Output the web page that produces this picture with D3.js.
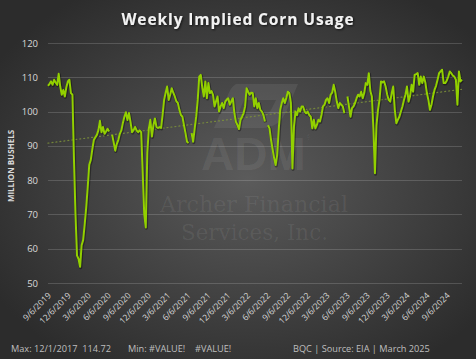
<!DOCTYPE html>
<html>
<head>
<meta charset="utf-8">
<script src="https://cdn.jsdelivr.net/npm/d3@7"></script>
<style>
  html, body { margin: 0; padding: 0; background: #333; }
  svg { display: block; }
</style>
</head>
<body>
<div id="chart"></div>
<script>
// Dimensions du graphique
const width = 476;
const height = 359;
const margin = { top: 43, right: 14, bottom: 76, left: 48 };

// Données : valeurs hebdomadaires (millions de boisseaux), à partir du 6/9/2019
const startDate = "9/6/2019";
const usage = [
  107.5, 108.1, 108.8, 107.8, 109.3, 108.5, 107.8, 111.0, 107.3, 104.9,
  106.3, 104.4, 107.1, 108.8, 109.3, 105.4, 104.9, 86.0, 70.0, 58.0,
  57.0, 54.7, 61.0, 62.5, 67.0, 72.0, 78.0, 84.5, 85.9, 89.0,
  91.7, 92.5, 93.2, 94.6, 97.3, 94.0, 95.5, 93.5, 94.2, 95.0,
  94.2, null, 93.2, 91.0, 88.6, 90.5, 91.7, 93.5, 94.5, 96.7,
  98.5, 99.8, 97.5, 99.6, 97.0, 94.0, 94.6, 95.5, 94.5, 94.0,
  94.5, 94.0, 82.0, 70.0, 66.2, 88.0, 95.0, 97.6, 92.7, 96.0,
  98.0, 95.5, 95.2, 95.5, 95.2, 99.0, 103.4, 105.5, 107.3, 103.4,
  105.0, 106.8, 105.5, 104.4, 103.0, 102.5, 100.5, 99.0, 98.5, 96.0,
  93.7, 91.2, 90.8, null, 93.7, 91.2, 95.0, 98.5, 103.4, 110.2,
  110.7, 107.0, 104.4, 108.8, 103.9, 108.3, 105.4, 106.0, 104.9, 101.5,
  103.0, 104.4, 100.0, 101.5, 102.5, 101.0, 102.9, 103.5, 103.9, 102.0,
  103.0, 103.9, 99.5, 97.0, 96.1, 94.9, 97.6, 98.5, 99.5, 101.5,
  106.8, 105.8, 104.9, 105.5, 105.4, 101.5, 103.9, 101.0, 102.5, 100.5,
  100.0, 99.0, 97.1, null, 96.0, 95.1, 91.7, 89.0, 86.5, 84.4,
  87.3, 94.6, 100.5, 102.5, 103.9, 102.5, 104.0, 105.8, 105.4, 102.5,
  83.4, 95.6, 100.0, 99.0, 101.0, 100.0, 101.5, 101.5, 100.0, 99.5,
  100.0, 99.0, 98.5, 95.1, 97.6, 95.1, 96.1, 97.6, 97.1, 99.0,
  101.5, 102.0, 103.4, 103.9, 102.5, 104.9, 105.5, 107.8, 105.8, 103.0,
  101.0, 102.5, 102.0, 101.5, 99.5, null, 104.4, 101.5, 98.5, 101.0,
  101.5, 102.5, 103.9, 104.9, 104.4, 105.8, 103.9, 105.4, 108.3, 107.8,
  111.2, 106.0, 104.4, 95.0, 82.0, 96.0, 100.5, 103.4, 108.8, 108.5,
  108.8, 107.3, 105.0, 103.4, 102.9, 105.4, 107.3, 100.5, 96.6, 97.6,
  98.5, 100.0, 101.5, 103.4, 105.0, 107.3, 102.9, 104.5, 107.8, 105.8,
  110.7, 110.9, 111.2, 107.8, 110.2, 108.3, 110.2, 108.5, 105.4, 103.4,
  100.5, 102.0, 104.4, 106.3, 107.5, 109.3, 111.2, 111.7, 112.2, 108.3,
  108.3, 109.0, 110.2, 111.7, 111.2, 110.5, 110.2, 109.3, 102.0, 111.7,
  108.8, 109.3
];

// Tendance linéaire (valeurs aux extrémités)
const trendEnds = [90.8, 106.5];

// Axes
const yTicks = [50, 60, 70, 80, 90, 100, 110, 120];
const xTickLabels = [
  "9/6/2019", "12/6/2019", "3/6/2020", "6/6/2020", "9/6/2020", "12/6/2020",
  "3/6/2021", "6/6/2021", "9/6/2021", "12/6/2021", "3/6/2022", "6/6/2022",
  "9/6/2022", "12/6/2022", "3/6/2023", "6/6/2023", "9/6/2023", "12/6/2023",
  "3/6/2024", "6/6/2024", "9/6/2024"
];

// Textes
const title = "Weekly Implied Corn Usage";
const yTitle = "MILLION BUSHELS";
const footerMax = "Max: 12/1/2017  114.72";
const footerMin = "Min: #VALUE!";
const footerMin2 = "#VALUE!";
const source = "BQC | Source: EIA | March 2025";

const parse = d3.timeParse("%m/%d/%Y");
const start = parse(startDate);
const data = usage.map((v, i) => ({ date: d3.timeDay.offset(start, 7 * i), value: v }));

const svg = d3.select("#chart").append("svg")
  .attr("width", width)
  .attr("height", height);

// Fond dégradé radial
const defs = svg.append("defs");
const bg = defs.append("radialGradient")
  .attr("id", "bg")
  .attr("cx", "52%").attr("cy", "50%").attr("r", "62%");
bg.append("stop").attr("offset", "0%").attr("stop-color", "#5b5b5b");
bg.append("stop").attr("offset", "100%").attr("stop-color", "#2c2c2c");

svg.append("rect")
  .attr("width", width)
  .attr("height", height)
  .attr("fill", "url(#bg)");

const shadow = defs.append("filter").attr("id", "shadow")
  .attr("x", "-10%").attr("y", "-30%").attr("width", "120%").attr("height", "160%");
shadow.append("feDropShadow")
  .attr("dx", 1).attr("dy", 1).attr("stdDeviation", 0.8)
  .attr("flood-color", "#000").attr("flood-opacity", 0.7);

// Échelles
const x = d3.scaleTime()
  .domain(d3.extent(data, d => d.date))
  .range([margin.left, width - margin.right]);

const y = d3.scaleLinear()
  .domain([50, 120])
  .range([height - margin.bottom, margin.top]);

// Filigrane ADM
const wm = svg.append("g").attr("fill", "#ffffff").attr("fill-opacity", 0.07);
wm.append("path")
  .attr("d", "M236,84 L298,84 L286,112 C281,123 272,128 262,128 L214,128 L226,100 C229,92 231,87 236,84 Z M244,100 L238,114 L264,114 C268,114 270,112 272,108 L276,100 Z");
wm.append("text")
  .attr("x", 201).attr("y", 170)
  .attr("font-family", "Liberation Sans, Arial, sans-serif")
  .attr("font-weight", "bold")
  .attr("font-size", 46)
  .text("ADM");
wm.append("text")
  .attr("x", 306).attr("y", 140)
  .attr("font-family", "Liberation Sans, Arial, sans-serif")
  .attr("font-size", 7)
  .text("®");
wm.append("text")
  .attr("x", 160).attr("y", 212)
  .attr("font-family", "DejaVu Serif, serif")
  .attr("font-size", 23)
  .attr("textLength", 188)
  .attr("lengthAdjust", "spacingAndGlyphs")
  .text("Archer Financial");
wm.append("text")
  .attr("x", 181).attr("y", 240)
  .attr("font-family", "DejaVu Serif, serif")
  .attr("font-size", 23)
  .attr("textLength", 147)
  .attr("lengthAdjust", "spacingAndGlyphs")
  .text("Services, Inc.");

// Quadrillage horizontal
svg.append("g")
  .selectAll("line")
  .data(yTicks)
  .enter().append("line")
  .attr("x1", margin.left)
  .attr("x2", width - margin.right)
  .attr("y1", d => Math.round(y(d)) + 0.5)
  .attr("y2", d => Math.round(y(d)) + 0.5)
  .attr("stroke", "#ffffff")
  .attr("stroke-opacity", 0.16)
  .attr("stroke-width", 1);

// Axe Y
const yAxis = svg.append("g")
  .attr("transform", `translate(${margin.left - 10},0)`)
  .call(d3.axisLeft(y).tickValues(yTicks).tickSize(0).tickPadding(0));
yAxis.select(".domain").remove();
yAxis.selectAll("text")
  .attr("fill", "#d9d9d9")
  .attr("font-family", "Open Sans, sans-serif")
  .attr("font-size", 9.5);

// Axe X
const xAxis = svg.append("g")
  .attr("transform", `translate(0,${height - margin.bottom})`)
  .call(d3.axisBottom(x).tickValues(xTickLabels.map(parse)).tickSize(0)
    .tickFormat((d, i) => xTickLabels[i]));
xAxis.select(".domain").remove();
xAxis.selectAll("text")
  .attr("fill", "#d9d9d9")
  .attr("font-family", "Open Sans, sans-serif")
  .attr("font-size", 8.5)
  .attr("text-anchor", "end")
  .attr("dx", 0)
  .attr("dy", 0)
  .attr("transform", "translate(1,11) rotate(-45)");

// Titre de l'axe Y
svg.append("text")
  .attr("transform", `translate(14,${(y(50) + y(120)) / 2 + 3}) rotate(-90)`)
  .attr("text-anchor", "middle")
  .attr("fill", "#d9d9d9")
  .attr("font-family", "Open Sans, sans-serif")
  .attr("font-weight", "bold")
  .attr("font-size", 8)
  .text(yTitle);

// Ligne de tendance
svg.append("line")
  .attr("x1", x.range()[0])
  .attr("x2", x.range()[1])
  .attr("y1", y(trendEnds[0]))
  .attr("y2", y(trendEnds[1]))
  .attr("stroke", "#7d923a")
  .attr("stroke-opacity", 0.85)
  .attr("stroke-width", 1.2)
  .attr("stroke-dasharray", "1,3")
  .attr("stroke-linecap", "round");

// Courbe principale
const line = d3.line()
  .defined(d => d.value !== null)
  .x(d => x(d.date))
  .y(d => y(d.value));

svg.append("path")
  .datum(data)
  .attr("fill", "none")
  .attr("stroke", "#000")
  .attr("stroke-opacity", 0.35)
  .attr("stroke-width", 3.2)
  .attr("transform", "translate(0.6,0.8)")
  .attr("stroke-linejoin", "round")
  .attr("d", line);

svg.append("path")
  .datum(data)
  .attr("fill", "none")
  .attr("stroke", "#92d000")
  .attr("stroke-width", 2)
  .attr("stroke-linejoin", "round")
  .attr("d", line);

// Titre
svg.append("text")
  .attr("x", 238)
  .attr("y", 25)
  .attr("text-anchor", "middle")
  .attr("fill", "#f2f2f2")
  .attr("font-family", "Open Sans, sans-serif")
  .attr("font-weight", "bold")
  .attr("font-size", 15.5)
  .attr("letter-spacing", 0.9)
  .attr("filter", "url(#shadow)")
  .text(title);

// Pied de page
const foot = svg.append("g")
  .attr("fill", "#bfbfbf")
  .attr("font-family", "Open Sans, sans-serif")
  .attr("font-size", 9.2);
foot.append("text").attr("x", 11).attr("y", 352).attr("xml:space", "preserve").text(footerMax);
foot.append("text").attr("x", 128).attr("y", 352).text(footerMin);
foot.append("text").attr("x", 195).attr("y", 352).text(footerMin2);
foot.append("text").attr("x", 293).attr("y", 352).text(source);
</script>
</body>
</html>
